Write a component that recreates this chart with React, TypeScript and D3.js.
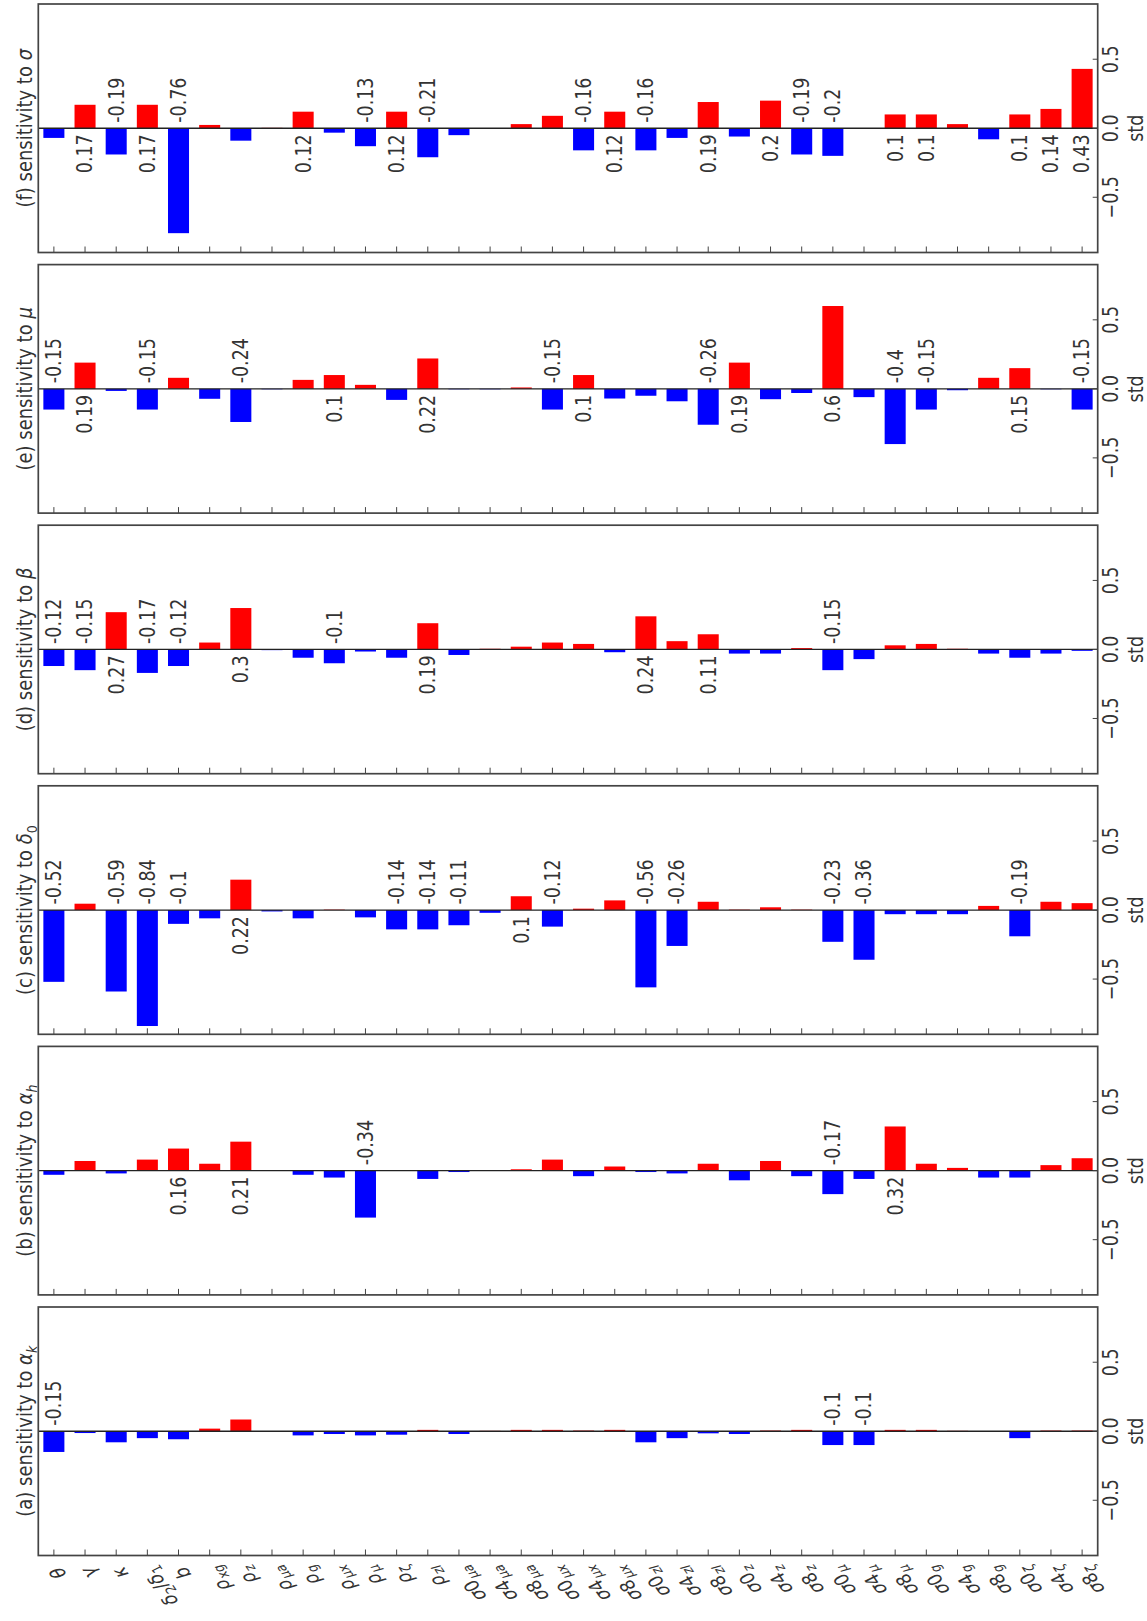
import React from "react";
import * as d3 from "d3";

// ---------- data ----------
const categories = [
  "θ", "γ", "κ", "δ_2/δ_1", "b", "ρ_{xg}", "ρ_z", "ρ_{μa}", "ρ_g", "ρ_{μx}", "ρ_μ", "ρ_ζ", "ρ_{zI}",
  "σ0_{μa}", "σ4_{μa}", "σ8_{μa}", "σ0_{μx}", "σ4_{μx}", "σ8_{μx}", "σ0_{zI}", "σ4_{zI}", "σ8_{zI}",
  "σ0_z", "σ4_z", "σ8_z", "σ0_μ", "σ4_μ", "σ8_μ", "σ0_g", "σ4_g", "σ8_g", "σ0_ζ", "σ4_ζ", "σ8_ζ",
];

const sensSigma = [
  -0.07, 0.17, -0.19, 0.17, -0.76, 0.024, -0.09, 0.003, 0.12, -0.032, -0.13, 0.12, -0.21,
  -0.05, -0.003, 0.03, 0.09, -0.16, 0.12, -0.16, -0.07, 0.19, -0.06, 0.2, -0.19, -0.2, -0.003,
  0.1, 0.1, 0.03, -0.08, 0.1, 0.14, 0.43,
];
const sensMu = [
  -0.15, 0.19, -0.015, -0.15, 0.08, -0.072, -0.24, -0.003, 0.065, 0.1, 0.029, -0.08, 0.22,
  -0.003, -0.003, 0.01, -0.15, 0.1, -0.07, -0.05, -0.09, -0.26, 0.19, -0.075, -0.03, 0.6, -0.06,
  -0.4, -0.15, -0.01, 0.08, 0.15, -0.003, -0.15,
];
const sensBeta = [
  -0.12, -0.15, 0.27, -0.17, -0.12, 0.05, 0.3, -0.005, -0.06, -0.1, -0.015, -0.06, 0.19,
  -0.04, 0.005, 0.02, 0.05, 0.04, -0.02, 0.24, 0.06, 0.11, -0.03, -0.03, 0.01, -0.15, -0.07,
  0.03, 0.04, 0.005, -0.03, -0.06, -0.03, -0.01,
];
const sensDelta0 = [
  -0.52, 0.046, -0.59, -0.84, -0.1, -0.06, 0.22, -0.01, -0.06, 0.003, -0.053, -0.14, -0.14,
  -0.11, -0.02, 0.1, -0.12, 0.01, 0.07, -0.56, -0.26, 0.06, 0.003, 0.02, 0.003, -0.23, -0.36,
  -0.03, -0.03, -0.03, 0.03, -0.19, 0.06, 0.05,
];
const sensAlphaH = [
  -0.03, 0.07, -0.02, 0.08, 0.16, 0.05, 0.21, 0.003, -0.03, -0.05, -0.34, 0.003, -0.06,
  -0.01, 0.003, 0.01, 0.08, -0.04, 0.03, -0.01, -0.02, 0.05, -0.07, 0.07, -0.04, -0.17, -0.06,
  0.32, 0.05, 0.02, -0.05, -0.05, 0.04, 0.09,
];
const sensAlphaK = [
  -0.15, -0.013, -0.08, -0.05, -0.058, 0.019, 0.085, -0.005, -0.03, -0.02, -0.03, -0.025, 0.01,
  -0.02, 0.003, 0.01, 0.01, 0.005, 0.01, -0.08, -0.05, -0.015, -0.02, 0.005, 0.01, -0.1, -0.1,
  0.01, 0.01, 0.003, -0.003, -0.05, 0.005, 0.005,
];

const panelLetters = ["f", "e", "d", "c", "b", "a"];
const panelParams = ["σ", "μ", "β", "δ_0", "α_h", "α_k"];
const panelValues = [sensSigma, sensMu, sensBeta, sensDelta0, sensAlphaH, sensAlphaK];
const yTicks = [-0.5, 0, 0.5];
const yDomain = [-0.9, 0.9];
const axisLabel = "std";

// ---------- layout ----------
const W = 1147;
const H = 1621;
const X0 = 38.3;
const X1 = 1097.7;
const TOP0 = 4;
const GAP = 260.6;
const PH = 248.5;
const SX = 1.17; // horizontal stretch of the picture
const TEXT = "#333";

type Part = { t: string; sub: boolean };

function parseMath(src: string): Part[] {
  const parts: Part[] = [];
  let i = 0;
  while (i < src.length) {
    const ch = src[i];
    if (ch === "_") {
      if (src[i + 1] === "{") {
        const j = src.indexOf("}", i + 2);
        parts.push({ t: src.slice(i + 2, j), sub: true });
        i = j + 1;
      } else {
        parts.push({ t: src[i + 1], sub: true });
        i += 2;
      }
    } else {
      parts.push({ t: ch, sub: false });
      i += 1;
    }
  }
  return parts;
}

function mathSpans(src: string, size: number, keyPrefix: string) {
  const parts = parseMath(src);
  const out: React.ReactNode[] = [];
  let shifted = false;
  const shift = size * 0.25;
  let k = 0;
  parts.forEach((p) => {
    for (const c of p.t) {
      let dy: number | undefined;
      if (p.sub && !shifted) {
        dy = shift;
        shifted = true;
      } else if (!p.sub && shifted) {
        dy = -shift;
        shifted = false;
      }
      const italic = /\p{L}/u.test(c);
      out.push(
        <tspan
          key={keyPrefix + k++}
          dy={dy}
          fontSize={p.sub ? size * 0.7 : size}
          fontStyle={italic ? "italic" : "normal"}
        >
          {c}
        </tspan>
      );
    }
  });
  return out;
}

const fmtVal = (v: number) => String(Math.round(v * 100) / 100);
const fmtTick = (v: number) => (v < 0 ? "\u2212" + Math.abs(v).toFixed(1) : v.toFixed(1));

export default function App() {
  const x = d3
    .scaleBand<string>()
    .domain(categories)
    .range([X0, X1])
    .paddingInner(0.325)
    .paddingOuter(0.1625);
  const bw = x.bandwidth();
  const cx = (c: string) => (x(c) as number) + bw / 2;

  const lastBottom = TOP0 + (panelLetters.length - 1) * GAP + PH;

  return (
    <div style={{ position: "absolute", left: 0, top: 0 }}>
      <svg
        width={W}
        height={H}
        style={{ display: "block", background: "#fff" }}
        fontFamily="'DejaVu Sans', sans-serif"
      >
        {panelLetters.map((letter, k) => {
          const top = TOP0 + k * GAP;
          const y = d3.scaleLinear().domain(yDomain).range([top + PH, top]);
          const y0 = y(0);
          const mid = top + PH / 2;
          const vals = panelValues[k];
          return (
            <g key={letter}>
              {categories.map((c, i) => {
                const v = vals[i];
                return (
                  <rect
                    key={c}
                    x={x(c)}
                    width={bw}
                    y={Math.min(y(v), y0)}
                    height={Math.abs(y(v) - y0)}
                    fill={v >= 0 ? "#ff0000" : "#0000ff"}
                  />
                );
              })}
              <line x1={X0} x2={X1} y1={y0} y2={y0} stroke="#222" strokeWidth={1.3} />
              {categories.map((c, i) => {
                const v = vals[i];
                const r = Math.round(v * 100) / 100;
                if (Math.abs(r) < 0.1) return null;
                const pos = v > 0;
                const ty = pos ? y0 + 6 : y0 - 5.5;
                return (
                  <text
                    key={"t" + c}
                    transform={`translate(${cx(c)},${ty}) scale(${SX},1) rotate(-90)`}
                    textAnchor={pos ? "end" : "start"}
                    dy="0.36em"
                    fontSize={17.5}
                    fill={TEXT}
                  >
                    {fmtVal(v)}
                  </text>
                );
              })}
              {categories.map((c) => (
                <line
                  key={"bt" + c}
                  x1={cx(c)}
                  x2={cx(c)}
                  y1={top + PH}
                  y2={top + PH - 6}
                  stroke="#444"
                  strokeWidth={1}
                />
              ))}
              {yTicks.map((t) => (
                <g key={"yt" + t}>
                  <line x1={X1} x2={X1 - 5} y1={y(t)} y2={y(t)} stroke="#444" strokeWidth={1} />
                  <text
                    transform={`translate(1118,${y(t)}) scale(${SX},1) rotate(-90)`}
                    textAnchor="middle"
                    fontSize={17.5}
                    fill={TEXT}
                  >
                    {fmtTick(t)}
                  </text>
                </g>
              ))}
              <text
                transform={`translate(1143,${mid}) scale(${SX},1) rotate(-90)`}
                textAnchor="middle"
                fontSize={17.5}
                fill={TEXT}
              >
                {axisLabel}
              </text>
              <text
                transform={`translate(31.7,${mid}) scale(${SX},1) rotate(-90)`}
                textAnchor="middle"
                fontSize={18}
                fill={TEXT}
              >
                <tspan>{`(${letter}) sensitivity to `}</tspan>
                {mathSpans(panelParams[k], 18, "p" + k)}
              </text>
              <rect
                x={X0}
                y={top}
                width={X1 - X0}
                height={PH}
                fill="none"
                stroke="#444"
                strokeWidth={1.7}
              />
            </g>
          );
        })}
        {categories.map((c, i) => (
          <text
            key={"cl" + i}
            transform={`translate(${cx(c) + 1},${lastBottom + 13}) scale(${SX},1) rotate(-120)`}
            textAnchor="end"
            dy="0.35em"
            fontSize={17}
            fill={TEXT}
          >
            {mathSpans(c, 17, "c" + i)}
          </text>
        ))}
      </svg>
    </div>
  );
}
